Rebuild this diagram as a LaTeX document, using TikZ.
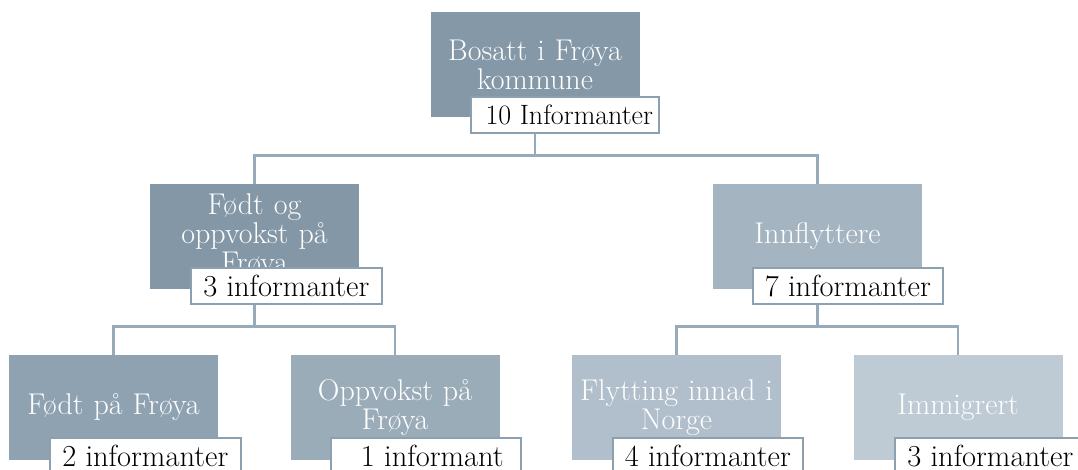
\documentclass[tikz,border=0pt]{standalone}
\usepackage{fontspec}
\usetikzlibrary{backgrounds}
\definecolor{cTop}{RGB}{132,152,167}
\definecolor{cA}{RGB}{131,151,166}
\definecolor{cB}{RGB}{164,180,193}
\definecolor{cC}{RGB}{143,162,177}
\definecolor{cD}{RGB}{155,172,185}
\definecolor{cE}{RGB}{176,191,203}
\definecolor{cF}{RGB}{190,202,212}
\definecolor{lineC}{RGB}{150,170,185}
\definecolor{lblC}{RGB}{140,160,176}
\tikzset{
  mainbox/.style={fill=#1, draw=none, minimum width=207pt, minimum height=105pt,
    inner sep=2pt, text=white, align=center, text width=205pt,
    font=\fontsize{30}{29}\selectfont},
  lblbox/.style={fill=white, draw=lblC, line width=2pt, minimum width=188pt,
    minimum height=36pt, inner sep=0pt, anchor=north west,
    font=\fontsize{30.5}{30}\selectfont, text=black},
  conn/.style={draw=lineC, line width=2.6pt}
}
\begin{document}
\begin{tikzpicture}[x=1pt,y=-1pt]
\useasboundingbox (0,0) rectangle (1078,470);
% level 1
\node[mainbox=cTop] (top) at (535,65) {Bosatt i Frøya\\kommune\\[6pt]};
\node[lblbox,font=\fontsize{28}{30}\selectfont] (topL) at ([xshift=40pt,yshift=22pt]top.south west) {\hspace{8pt}10 Informanter};
% level 2
\node[mainbox=cA] (fo) at (254.5,236.5) {Født og\\oppvokst på\\Frøya};
\node[lblbox,minimum width=191pt] (foL) at ([xshift=40pt,yshift=22pt]fo.south west) {3 informanter};
\node[mainbox=cB] (inn) at (817.5,236.5) {Innflyttere\\[6pt]};
\node[lblbox,minimum width=190pt] (innL) at ([xshift=39pt,yshift=22pt]inn.south west) {7 informanter};
% level 3
\node[mainbox=cC] (fp) at (113.5,407.5) {Født på Frøya\\[6pt]};
\node[lblbox,minimum width=191pt] (fpL) at ([xshift=40pt,yshift=23pt]fp.south west) {2 informanter};
\node[mainbox=cD] (op) at (395,407.5) {Oppvokst på\\Frøya\\[6pt]};
\node[lblbox,minimum width=190pt] (opL) at ([xshift=40pt,yshift=23pt]op.south west) {\hspace{12pt}1 informant};
\node[mainbox=cE] (fl) at (676.5,407.5) {Flytting innad i\\Norge\\[6pt]};
\node[lblbox,minimum width=190pt] (flL) at ([xshift=40pt,yshift=23pt]fl.south west) {4 informanter};
\node[mainbox=cF] (im) at (958,407.5) {Immigrert\\[6pt]};
\node[lblbox,minimum width=190pt] (imL) at ([xshift=41pt,yshift=23pt]im.south west) {3 informanter};
% connectors
\begin{scope}[on background layer]
\draw[conn] (top.south) -- ++(0,38) -| (fo.north);
\draw[conn] (top.south) -- ++(0,38) -| (inn.north);
\draw[conn] (fo.south) -- ++(0,37) -| (fp.north);
\draw[conn] (fo.south) -- ++(0,37) -| (op.north);
\draw[conn] (inn.south) -- ++(0,37) -| (fl.north);
\draw[conn] (inn.south) -- ++(0,37) -| (im.north);
\end{scope}
\end{tikzpicture}
\end{document}
